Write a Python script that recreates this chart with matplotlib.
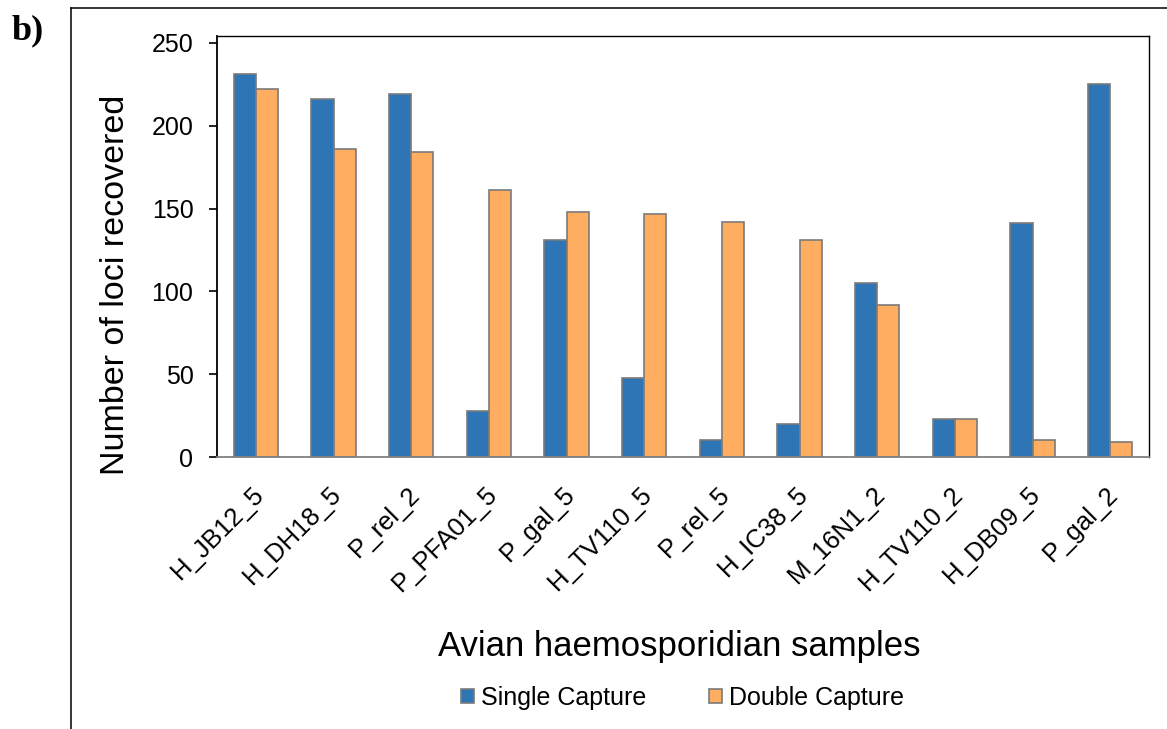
import matplotlib
matplotlib.use("Agg")
import matplotlib.pyplot as plt
import matplotlib.transforms as mtransforms
from matplotlib.lines import Line2D
import numpy as np

plt.rcParams['font.family'] = ['Liberation Sans', 'DejaVu Sans']

samples = ["H_JB12_5", "H_DH18_5", "P_rel_2", "P_PFA01_5", "P_gal_5", "H_TV110_5",
           "P_rel_5", "H_IC38_5", "M_16N1_2", "H_TV110_2", "H_DB09_5", "P_gal_2"]
single_capture = [231, 216, 219, 28, 131, 48, 10, 20, 105, 23, 141, 225]
double_capture = [222, 186, 184, 161, 148, 147, 142, 131, 92, 23, 10, 9]
yticks = [0, 50, 100, 150, 200, 250]

blue = "#2E75B6"
orange = "#FFAD60"
edge = "#7A7A7A"

fig = plt.figure(figsize=(11.67, 7.29), dpi=100)
ax = fig.add_axes([0.186, 0.3731, 0.7986, 0.5775])

x = np.arange(len(samples))
w = 0.286
ax.bar(x - w / 2, single_capture, w, color=blue, edgecolor=edge, linewidth=1.2,
       label="Single Capture")
ax.bar(x + w / 2, double_capture, w, color=orange, edgecolor=edge, linewidth=1.2,
       label="Double Capture")

ax.set_xlim(-0.5, len(samples) - 0.5)
ax.set_ylim(0, 254.2)
ax.set_yticks(yticks)
ax.tick_params(axis='y', labelsize=18, length=6, width=1.2, pad=11, colors='black')
ax.tick_params(axis='x', length=0, pad=18)
ax.set_xticks(x)
ax.set_xticklabels(samples, rotation=45, ha='right', va='top',
                   rotation_mode='anchor', fontsize=18.5)
shift = mtransforms.ScaledTranslation(-4 / 100, 0, fig.dpi_scale_trans)
for lab in ax.get_xticklabels():
    lab.set_transform(lab.get_transform() + shift)

for side in ['top', 'right', 'left']:
    ax.spines[side].set_color('black')
    ax.spines[side].set_linewidth(1.0)
ax.spines['left'].set_linewidth(1.3)
ax.spines['bottom'].set_color('#808080')
ax.spines['bottom'].set_linewidth(1.3)

ax.set_ylabel("Number of loci recovered", fontsize=24.5, va='center')
ax.yaxis.set_label_coords(-0.109, 0.409)
ax.set_xlabel("Avian haemosporidian samples", fontsize=25, va='center')
ax.xaxis.set_label_coords(0.4957, -0.449)

ax.legend(loc='center', bbox_to_anchor=(0.4995, -0.572), ncol=2, frameon=False,
          fontsize=18, handlelength=0.52, handleheight=0.52, handletextpad=0.3,
          columnspacing=2.5, borderpad=0)

# outer panel frame
fig.add_artist(Line2D([0.0608, 0.0608], [0.989, 0.0], transform=fig.transFigure,
                      color='black', linewidth=1.1))
fig.add_artist(Line2D([0.0608, 1.0], [0.989, 0.989], transform=fig.transFigure,
                      color='black', linewidth=1.1))
fig.text(0.0103, 0.9465, "b)", family=['Liberation Serif', 'DejaVu Serif'],
         weight='bold', fontsize=26, va='baseline', ha='left')

fig.savefig("out.png", dpi=100)
